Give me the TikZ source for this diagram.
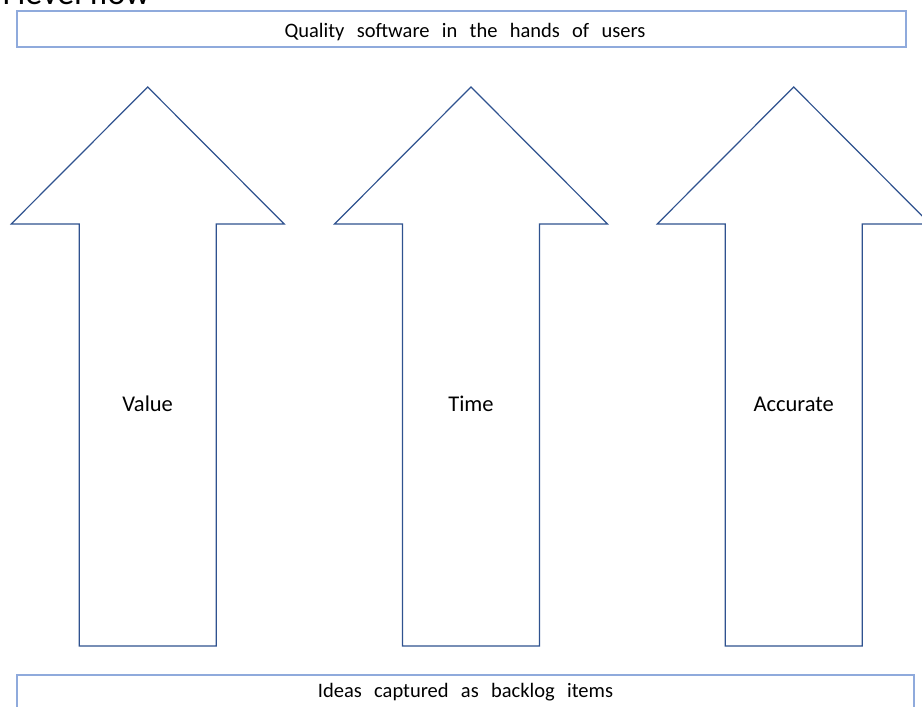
\documentclass[tikz,border=0pt]{standalone}
\usepackage{fontspec}
\setmainfont{Carlito}
\definecolor{arrowblue}{HTML}{2F528F}
\definecolor{boxblue}{HTML}{8FAADC}
\begin{document}
\begin{tikzpicture}[x=1pt,y=-1pt,
  arrowshape/.style={draw=arrowblue,line width=1.2pt,line join=miter,fill=white},
  bannerbox/.style={draw=boxblue,line width=1.2pt},
  lbl/.style={font=\fontsize{20.5}{24}\selectfont,inner sep=0pt,anchor=base},
  arrowlbl/.style={font=\fontsize{22.5}{26}\selectfont,inner sep=0pt,anchor=base},
  wide/.style={execute at begin node={\spaceskip=0.6em\relax}}]
\useasboundingbox (0,0) rectangle (922,707);
% cut-off title at the top
\node[anchor=base east,inner sep=0pt,font=\fontsize{34}{40}\selectfont] (title) at (150,4.5) {High level flow};
% top banner
\draw[bannerbox] (17,11) rectangle (906,47);
\node[lbl,wide] (toptext) at (465,37.3) {Quality software in the hands of users};
% bottom banner
\draw[bannerbox] (17,675) rectangle (914,720);
\node[lbl,wide] (bottomtext) at (465.5,697) {Ideas captured as backlog items};
% arrows
\foreach \cx/\nm/\txt in {147.7/value/Value, 471/time/Time, 793.7/accurate/Accurate}{
  \draw[arrowshape] (\cx,87) -- (\cx+136.5,224) -- (\cx+68.5,224) -- (\cx+68.5,646)
     -- (\cx-68.5,646) -- (\cx-68.5,224) -- (\cx-136.5,224) -- cycle;
  \node[arrowlbl] (\nm) at (\cx,411.5) {\txt};
}
\end{tikzpicture}
\end{document}
